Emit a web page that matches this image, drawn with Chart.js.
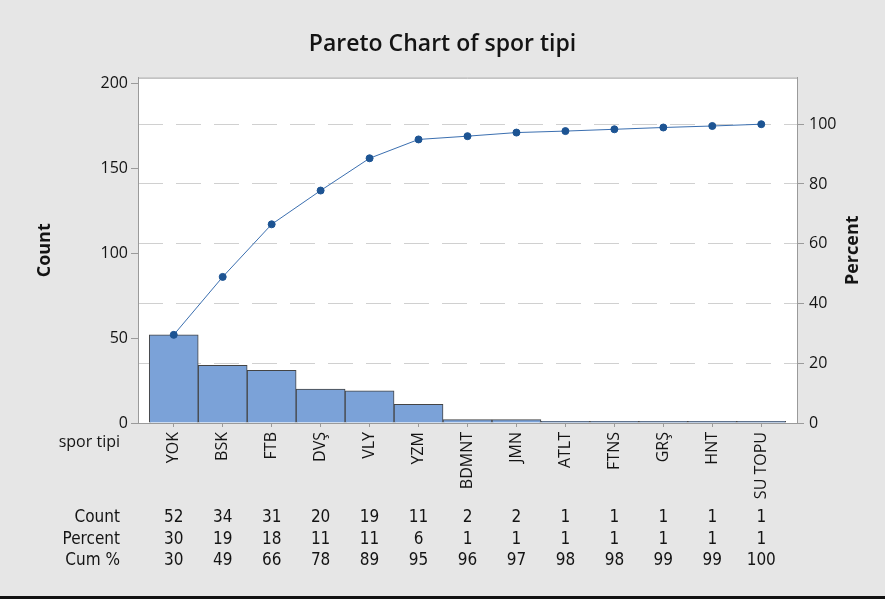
<!DOCTYPE html>
<html>
<head>
<meta charset="utf-8">
<title>Pareto Chart of spor tipi</title>
<script src="https://cdn.jsdelivr.net/npm/chart.js@4.4.0/dist/chart.umd.min.js"></script>
<style>
    html, body { margin: 0; padding: 0; background: #e6e6e6; }
    #wrap { width: 885px; height: 599px; position: relative; }
</style>
</head>
<body>
<div id="wrap"><canvas id="pareto-chart"></canvas></div>
<script>
// chart data
const categories = ['YOK', 'BSK', 'FTB', 'DVŞ', 'VLY', 'YZM', 'BDMNT', 'JMN', 'ATLT', 'FTNS', 'GRŞ', 'HNT', 'SU TOPU'];
const counts = [52, 34, 31, 20, 19, 11, 2, 2, 1, 1, 1, 1, 1];
const percents = [30, 19, 18, 11, 11, 6, 1, 1, 1, 1, 1, 1, 1];
const cumPercents = [30, 49, 66, 78, 89, 95, 96, 97, 98, 98, 99, 99, 100];
// unrounded cumulative percent for the line
const cumLine = [29.5, 48.9, 66.5, 77.8, 88.6, 94.9, 96.0, 97.2, 97.7, 98.3, 98.9, 99.4, 100];
const countTicks = [0, 50, 100, 150, 200];
const percentTicks = [0, 20, 40, 60, 80, 100];
const tableRows = [
    { label: 'Count', values: counts },
    { label: 'Percent', values: percents },
    { label: 'Cum %', values: cumPercents }
];

const FONT = '"Open Sans", "Noto Sans", sans-serif';
const NARROW = '"Liberation Sans Narrow", "DejaVu Sans Condensed", "Open Sans", sans-serif';
const TEXT = '#141414';
const AXIS = '#9a9a9a';

document.addEventListener('DOMContentLoaded', () => {
    const ctx = document.getElementById('pareto-chart').getContext('2d');

    // white plot area, top frame line, extra texts and the table under the axis
    const paretoExtras = {
        id: 'paretoExtras',
        beforeDraw(chart) {
            const { ctx, chartArea: a } = chart;
            ctx.save();
            ctx.fillStyle = '#ffffff';
            ctx.fillRect(a.left, a.top, a.right - a.left, a.bottom - a.top);
            ctx.restore();
        },
        afterDraw(chart) {
            const { ctx, chartArea: a } = chart;
            const x = chart.scales.x;
            ctx.save();
            ctx.strokeStyle = AXIS;
            ctx.lineWidth = 1;
            ctx.beginPath();
            ctx.moveTo(a.left, a.top + 0.5);
            ctx.lineTo(a.right, a.top + 0.5);
            ctx.stroke();

            ctx.fillStyle = TEXT;
            ctx.font = '16px ' + FONT;
            ctx.textAlign = 'right';
            ctx.textBaseline = 'middle';
            ctx.fillText('spor tipi', 120, 442);

            ctx.font = '17px ' + NARROW;
            tableRows.forEach((row, r) => {
                const y = 518 + r * 21.5;
                ctx.textAlign = 'right';
                ctx.fillText(row.label, 120, y);
                ctx.textAlign = 'center';
                row.values.forEach((v, i) => {
                    ctx.fillText(String(v), x.getPixelForValue(i), y);
                });
            });

            // right axis title reads bottom to top like the left one
            ctx.save();
            ctx.translate(853, (a.top + a.bottom) / 2);
            ctx.rotate(-Math.PI / 2);
            ctx.font = 'bold 18px ' + FONT;
            ctx.textAlign = 'center';
            ctx.fillText('Percent', 0, 0);
            ctx.restore();

            // window edge at the bottom
            ctx.fillStyle = '#111111';
            ctx.fillRect(0, 596, chart.width, 3);
            ctx.restore();
        }
    };

    new Chart(ctx, {
        type: 'bar',
        data: {
            datasets: [
                {
                    type: 'line',
                    label: 'Cum %',
                    data: categories.map((c, i) => ({ x: i, y: cumLine[i] })),
                    yAxisID: 'yPct',
                    borderColor: '#3b6fb0',
                    borderWidth: 1,
                    pointRadius: 3.5,
                    pointBackgroundColor: '#1d5493',
                    pointBorderColor: '#1d5493',
                    tension: 0,
                    order: 0
                },
                {
                    type: 'bar',
                    label: 'Count',
                    data: categories.map((c, i) => ({ x: i, y: counts[i] })),
                    yAxisID: 'yCount',
                    backgroundColor: '#7ba2d8',
                    borderColor: '#444444',
                    borderWidth: 1,
                    barPercentage: 1,
                    categoryPercentage: 1,
                    order: 1
                }
            ]
        },
        options: {
            responsive: true,
            maintainAspectRatio: false,
            animation: false,
            layout: { padding: 0 },
            plugins: {
                legend: { display: false },
                tooltip: { enabled: false },
                title: {
                    display: true,
                    text: 'Pareto Chart of spor tipi',
                    color: TEXT,
                    font: { family: FONT, size: 23, weight: '600' },
                    padding: { top: 31, bottom: 19 }
                }
            },
            scales: {
                x: {
                    type: 'linear',
                    offset: false,
                    min: -0.73,
                    max: 12.73,
                    afterBuildTicks: s => { s.ticks = categories.map((c, i) => ({ value: i })); },
                    afterFit: s => { s.height = 176; },
                    ticks: {
                        callback: v => categories[v],
                        autoSkip: false,
                        minRotation: 90,
                        maxRotation: 90,
                        padding: 5,
                        color: TEXT,
                        font: { family: FONT, size: 16 }
                    },
                    grid: { offset: false, drawOnChartArea: false, tickLength: 4, color: AXIS },
                    border: { color: AXIS }
                },
                yCount: {
                    position: 'left',
                    min: 0,
                    max: 203.5,
                    afterBuildTicks: s => { s.ticks = countTicks.map(v => ({ value: v })); },
                    afterFit: s => { s.width = 138; },
                    ticks: { padding: 3, color: TEXT, font: { family: FONT, size: 16 } },
                    grid: { drawOnChartArea: false, tickLength: 7, color: AXIS },
                    border: { color: AXIS },
                    title: {
                        display: true,
                        text: 'Count',
                        color: TEXT,
                        font: { family: FONT, size: 18, weight: 'bold' },
                        padding: { top: 34, bottom: 0 }
                    }
                },
                yPct: {
                    position: 'right',
                    min: 0,
                    max: 115.6,
                    afterBuildTicks: s => { s.ticks = percentTicks.map(v => ({ value: v })); },
                    afterFit: s => { s.width = 88; },
                    ticks: { padding: 5, color: TEXT, font: { family: FONT, size: 16 } },
                    grid: {
                        tickLength: 7,
                        color: c => (c.tick && c.tick.value === 0 ? 'rgba(0,0,0,0)' : '#d0d0d0'),
                        tickColor: AXIS
                    },
                    border: { color: AXIS, dash: [25, 13] }
                }
            }
        },
        plugins: [paretoExtras]
    });
});
</script>
</body>
</html>
